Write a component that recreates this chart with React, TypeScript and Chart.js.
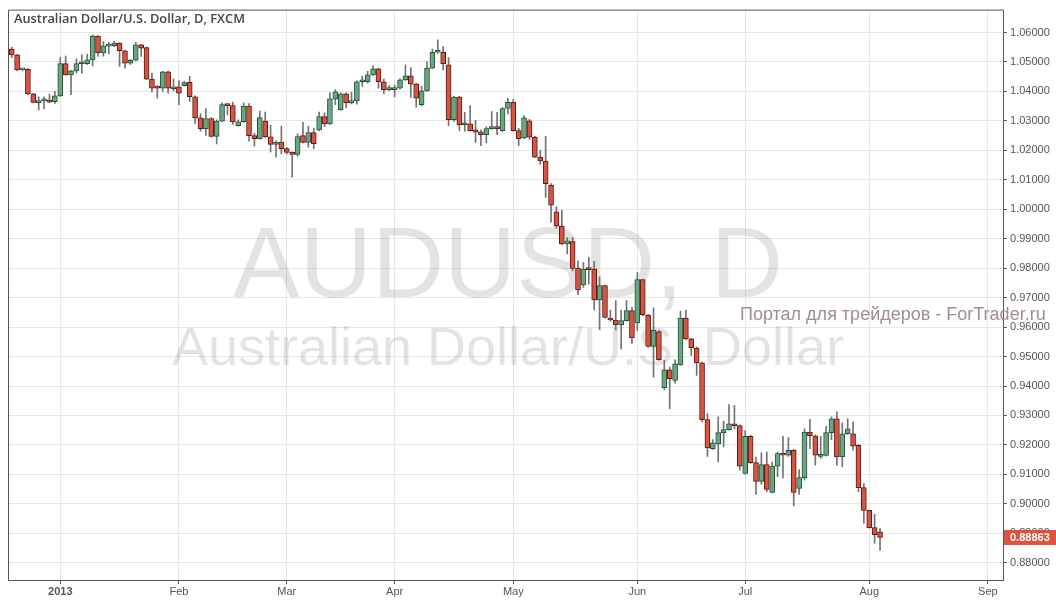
import React, { useEffect, useRef } from 'react';
import { Chart, registerables } from 'chart.js';

Chart.register(...registerables);

// Daily AUD/USD candles (FXCM), Dec 2012 – Aug 2013, one entry per trading day
const opens = [
  1.0544, 1.0524, 1.0473, 1.0475, 1.0392, 1.0362, 1.0368, 1.0370, 1.0365, 1.0385,
  1.0495, 1.0456, 1.0470, 1.0494, 1.0494, 1.0507, 1.0588, 1.0531, 1.0554, 1.0555,
  1.0564, 1.0538, 1.0496, 1.0506, 1.0558, 1.0549, 1.0442, 1.0412, 1.0411, 1.0467,
  1.0409, 1.0416, 1.0420, 1.0431, 1.0382, 1.0310, 1.0274, 1.0308, 1.0247, 1.0299,
  1.0355, 1.0352, 1.0284, 1.0297, 1.0350, 1.0250, 1.0240, 1.0299, 1.0246, 1.0220,
  1.0228, 1.0206, 1.0194, 1.0186, 1.0250, 1.0227, 1.0260, 1.0269, 1.0315, 1.0290,
  1.0374, 1.0338, 1.0392, 1.0361, 1.0368, 1.0433, 1.0433, 1.0456, 1.0477, 1.0433,
  1.0406, 1.0406, 1.0411, 1.0439, 1.0453, 1.0425, 1.0355, 1.0402, 1.0479, 1.0533,
  1.0533, 1.0490, 1.0304, 1.0381, 1.0287, 1.0290, 1.0270, 1.0263, 1.0253, 1.0274,
  1.0281, 1.0267, 1.0342, 1.0363, 1.0267, 1.0242, 1.0300, 1.0245, 1.0177, 1.0164,
  1.0082, 0.9991, 0.9943, 0.9882, 0.9890, 0.9800, 0.9743, 0.9797, 0.9797, 0.9692,
  0.9741, 0.9628, 0.9624, 0.9607, 0.9622, 0.9656, 0.9614, 0.9761, 0.9641, 0.9534,
  0.9585, 0.9394, 0.9455, 0.9419, 0.9472, 0.9631, 0.9560, 0.9529, 0.9479, 0.9286,
  0.9187, 0.9203, 0.9242, 0.9252, 0.9272, 0.9266, 0.9103, 0.9229, 0.9140, 0.9076,
  0.9133, 0.9039, 0.9128, 0.9171, 0.9165, 0.9182, 0.9052, 0.9089, 0.9244, 0.9231,
  0.9161, 0.9164, 0.9242, 0.9289, 0.9159, 0.9238, 0.9238, 0.9199, 0.9055, 0.8978,
  0.8919, 0.8905,
];
const highs = [
  1.0550, 1.0526, 1.0477, 1.0477, 1.0394, 1.0382, 1.0382, 1.0391, 1.0400, 1.0515,
  1.0520, 1.0472, 1.0511, 1.0524, 1.0526, 1.0592, 1.0590, 1.0569, 1.0567, 1.0571,
  1.0566, 1.0540, 1.0508, 1.0567, 1.0560, 1.0551, 1.0462, 1.0420, 1.0468, 1.0469,
  1.0442, 1.0437, 1.0434, 1.0451, 1.0385, 1.0324, 1.0342, 1.0310, 1.0304, 1.0361,
  1.0357, 1.0364, 1.0304, 1.0361, 1.0359, 1.0259, 1.0333, 1.0330, 1.0285, 1.0232,
  1.0282, 1.0210, 1.0195, 1.0256, 1.0295, 1.0282, 1.0276, 1.0330, 1.0327, 1.0396,
  1.0406, 1.0395, 1.0395, 1.0397, 1.0436, 1.0451, 1.0468, 1.0487, 1.0479, 1.0442,
  1.0420, 1.0422, 1.0443, 1.0490, 1.0481, 1.0428, 1.0417, 1.0501, 1.0544, 1.0575,
  1.0552, 1.0515, 1.0383, 1.0383, 1.0329, 1.0352, 1.0302, 1.0270, 1.0280, 1.0332,
  1.0329, 1.0345, 1.0377, 1.0372, 1.0275, 1.0318, 1.0305, 1.0248, 1.0200, 1.0248,
  1.0087, 1.0008, 0.9997, 0.9904, 0.9904, 0.9825, 0.9820, 0.9837, 0.9823, 0.9771,
  0.9743, 0.9658, 0.9690, 0.9658, 0.9690, 0.9667, 0.9786, 0.9763, 0.9643, 0.9665,
  0.9588, 0.9487, 0.9464, 0.9489, 0.9654, 0.9658, 0.9563, 0.9533, 0.9481, 0.9306,
  0.9218, 0.9295, 0.9281, 0.9337, 0.9334, 0.9268, 0.9249, 0.9233, 0.9159, 0.9173,
  0.9176, 0.9142, 0.9176, 0.9229, 0.9225, 0.9184, 0.9116, 0.9255, 0.9287, 0.9233,
  0.9229, 0.9263, 0.9295, 0.9312, 0.9275, 0.9289, 0.9278, 0.9201, 0.9069, 0.8979,
  0.8964, 0.8917,
];
const lows = [
  1.0515, 1.0470, 1.0470, 1.0389, 1.0361, 1.0337, 1.0341, 1.0362, 1.0359, 1.0383,
  1.0455, 1.0389, 1.0462, 1.0462, 1.0492, 1.0487, 1.0519, 1.0520, 1.0527, 1.0552,
  1.0485, 1.0479, 1.0492, 1.0504, 1.0519, 1.0440, 1.0398, 1.0377, 1.0400, 1.0394,
  1.0402, 1.0355, 1.0418, 1.0366, 1.0291, 1.0265, 1.0251, 1.0245, 1.0222, 1.0297,
  1.0321, 1.0288, 1.0282, 1.0295, 1.0231, 1.0214, 1.0238, 1.0244, 1.0195, 1.0177,
  1.0188, 1.0188, 1.0109, 1.0180, 1.0225, 1.0211, 1.0206, 1.0266, 1.0280, 1.0288,
  1.0355, 1.0336, 1.0344, 1.0358, 1.0357, 1.0417, 1.0428, 1.0454, 1.0411, 1.0392,
  1.0403, 1.0381, 1.0408, 1.0437, 1.0380, 1.0347, 1.0351, 1.0400, 1.0477, 1.0530,
  1.0473, 1.0284, 1.0298, 1.0267, 1.0265, 1.0265, 1.0227, 1.0216, 1.0225, 1.0272,
  1.0253, 1.0265, 1.0324, 1.0265, 1.0216, 1.0240, 1.0237, 1.0175, 1.0152, 1.0040,
  0.9955, 0.9936, 0.9880, 0.9848, 0.9791, 0.9710, 0.9735, 0.9746, 0.9658, 0.9591,
  0.9630, 0.9620, 0.9590, 0.9526, 0.9620, 0.9545, 0.9588, 0.9639, 0.9532, 0.9430,
  0.9487, 0.9387, 0.9323, 0.9410, 0.9470, 0.9557, 0.9504, 0.9436, 0.9278, 0.9161,
  0.9185, 0.9142, 0.9193, 0.9250, 0.9255, 0.9114, 0.9101, 0.9137, 0.9032, 0.9067,
  0.9041, 0.9037, 0.9092, 0.9088, 0.9161, 0.8993, 0.9032, 0.9080, 0.9187, 0.9131,
  0.9154, 0.9162, 0.9218, 0.9131, 0.9125, 0.9236, 0.9182, 0.9041, 0.8934, 0.8917,
  0.8866, 0.8843,
];
const closes = [
  1.0524, 1.0473, 1.0475, 1.0392, 1.0363, 1.0368, 1.0369, 1.0364, 1.0385, 1.0495,
  1.0456, 1.0470, 1.0495, 1.0495, 1.0507, 1.0588, 1.0532, 1.0555, 1.0555, 1.0564,
  1.0538, 1.0496, 1.0506, 1.0558, 1.0547, 1.0442, 1.0411, 1.0411, 1.0467, 1.0411,
  1.0416, 1.0394, 1.0430, 1.0382, 1.0310, 1.0274, 1.0308, 1.0247, 1.0299, 1.0355,
  1.0352, 1.0297, 1.0297, 1.0350, 1.0250, 1.0240, 1.0311, 1.0246, 1.0220, 1.0228,
  1.0206, 1.0193, 1.0186, 1.0247, 1.0227, 1.0260, 1.0223, 1.0315, 1.0290, 1.0375,
  1.0399, 1.0392, 1.0361, 1.0369, 1.0433, 1.0436, 1.0456, 1.0477, 1.0433, 1.0406,
  1.0410, 1.0413, 1.0439, 1.0453, 1.0425, 1.0377, 1.0402, 1.0479, 1.0533, 1.0535,
  1.0494, 1.0304, 1.0381, 1.0287, 1.0290, 1.0267, 1.0262, 1.0253, 1.0274, 1.0281,
  1.0274, 1.0342, 1.0363, 1.0267, 1.0240, 1.0310, 1.0245, 1.0177, 1.0164, 1.0087,
  1.0014, 0.9943, 0.9882, 0.9893, 0.9799, 0.9726, 0.9797, 0.9795, 0.9692, 0.9741,
  0.9633, 0.9624, 0.9607, 0.9622, 0.9656, 0.9563, 0.9761, 0.9641, 0.9534, 0.9590,
  0.9489, 0.9455, 0.9425, 0.9475, 0.9631, 0.9560, 0.9529, 0.9479, 0.9286, 0.9190,
  0.9207, 0.9242, 0.9252, 0.9272, 0.9265, 0.9128, 0.9229, 0.9140, 0.9076, 0.9133,
  0.9049, 0.9128, 0.9171, 0.9165, 0.9182, 0.9039, 0.9089, 0.9244, 0.9231, 0.9165,
  0.9168, 0.9242, 0.9289, 0.9159, 0.9238, 0.9255, 0.9196, 0.9055, 0.8978, 0.8919,
  0.8895, 0.88863,
];

// Month labels and the trading-day index where each month starts
const monthTickIndex = [9, 31, 51, 71, 93, 116, 136, 159, 181];
const monthTickLabels = ['2013', 'Feb', 'Mar', 'Apr', 'May', 'Jun', 'Jul', 'Aug', 'Sep'];
const priceTicks = [
  0.88, 0.89, 0.9, 0.91, 0.92, 0.93, 0.94, 0.95, 0.96, 0.97,
  0.98, 0.99, 1.0, 1.01, 1.02, 1.03, 1.04, 1.05, 1.06,
];
const lastPrice = 0.88863;

const titleText = 'Australian Dollar/U.S. Dollar, D, FXCM';
const watermarkBig = 'AUDUSD, D';
const watermarkSmall = 'Australian Dollar/U.S. Dollar';
const brandText = 'Портал для трейдеров - ForTrader.ru';

const UP_FILL = '#6ba583';
const UP_LINE = '#225437';
const DOWN_FILL = '#d75442';
const DOWN_LINE = '#5b1a13';
const WICK = '#737375';
const AXIS = '#555555';
const GRID = '#e6e6e6';
const FONT = "'Liberation Sans', Arial, sans-serif";

export default function App() {
  const ref = useRef<HTMLCanvasElement | null>(null);

  useEffect(() => {
    const canvas = ref.current;
    if (!canvas) return;

    const isUp = opens.map((o, i) => closes[i] >= o);
    const bodyData = opens.map((o, i) => ({ x: i, y: [o, closes[i]] }));
    const wickData = lows.map((l, i) => ({ x: i, y: [l, highs[i]] }));

    const framePlugin = {
      id: 'frame',
      afterDraw(chart: any) {
        const { ctx, chartArea } = chart;
        ctx.save();
        ctx.strokeStyle = AXIS;
        ctx.lineWidth = 1;
        ctx.beginPath();
        ctx.moveTo(chartArea.left + 0.5, chartArea.top + 0.5);
        ctx.lineTo(chartArea.right + 0.5, chartArea.top + 0.5);
        ctx.lineTo(chartArea.right + 0.5, chartArea.bottom + 0.5);
        ctx.lineTo(chartArea.left + 0.5, chartArea.bottom + 0.5);
        ctx.closePath();
        ctx.stroke();
        ctx.restore();
      },
    };

    const watermarkPlugin = {
      id: 'watermark',
      beforeDatasetsDraw(chart: any) {
        const { ctx } = chart;
        ctx.save();
        ctx.fillStyle = 'rgba(0,0,0,0.11)';
        ctx.textAlign = 'center';
        ctx.textBaseline = 'alphabetic';
        ctx.font = `100px ${FONT}`;
        ctx.fillText(watermarkBig, 508, 297);
        ctx.font = `54px ${FONT}`;
        ctx.fillText(watermarkSmall, 508, 365);
        ctx.restore();
      },
    };

    const overlayPlugin = {
      id: 'overlay',
      afterDraw(chart: any) {
        const { ctx } = chart;
        const yScale = chart.scales.y;
        ctx.save();
        // title
        ctx.fillStyle = '#444444';
        ctx.font = `600 12.8px 'Open Sans', sans-serif`;
        ctx.textAlign = 'left';
        ctx.textBaseline = 'middle';
        ctx.fillText(titleText, 14, 19);
        // brand text
        ctx.fillStyle = '#a08e8e';
        ctx.font = `18px ${FONT}`;
        ctx.textBaseline = 'alphabetic';
        ctx.fillText(brandText, 740, 320);
        // last price tag
        const py = yScale.getPixelForValue(lastPrice);
        ctx.fillStyle = '#dd5340';
        ctx.fillRect(chart.chartArea.right + 1, Math.round(py) - 7, 53, 15);
        ctx.fillStyle = '#ffffff';
        ctx.font = `bold 11px ${FONT}`;
        ctx.textBaseline = 'middle';
        ctx.fillText(lastPrice.toFixed(5), 1010, Math.round(py) + 1);
        ctx.restore();
      },
    };

    const chart = new Chart(canvas, {
      type: 'bar',
      data: {
        datasets: [
          {
            label: 'body',
            data: bodyData as any,
            backgroundColor: isUp.map((u) => (u ? UP_FILL : DOWN_FILL)),
            borderColor: isUp.map((u) => (u ? UP_LINE : DOWN_LINE)),
            borderWidth: 1,
            borderSkipped: false,
            barThickness: 5,
            minBarLength: 2,
            grouped: false,
            order: 0,
          } as any,
          {
            label: 'wick',
            data: wickData as any,
            backgroundColor: WICK,
            borderWidth: 0,
            barThickness: 1,
            grouped: false,
            order: 1,
          } as any,
        ],
      },
      options: {
        animation: false,
        responsive: false,
        maintainAspectRatio: false,
        layout: { padding: { left: 8, top: 8, right: 0, bottom: 0 } },
        plugins: {
          legend: { display: false },
          tooltip: { enabled: false },
          title: { display: false },
        },
        scales: {
          x: {
            type: 'linear',
            min: -0.69,
            max: 183.8,
            offset: false,
            grid: { color: GRID, offset: false, tickLength: 4, tickColor: AXIS, drawOnChartArea: true },
            border: { display: false },
            afterBuildTicks: (scale: any) => {
              scale.ticks = monthTickIndex.map((v) => ({ value: v }));
            },
            afterFit: (scale: any) => {
              scale.height = 28;
            },
            ticks: {
              autoSkip: false,
              maxRotation: 0,
              padding: 1,
              color: AXIS,
              font: (ctx: any) => ({
                family: FONT,
                size: 11,
                weight: ctx.tick && ctx.tick.value === monthTickIndex[0] ? 'bold' : 'normal',
              }),
              callback: (value: any) => {
                const k = monthTickIndex.indexOf(Number(value));
                return k >= 0 ? monthTickLabels[k] : '';
              },
            },
          } as any,
          y: {
            type: 'linear',
            position: 'right',
            min: 0.874144,
            max: 1.067784,
            grid: { color: GRID, tickLength: 4, tickColor: AXIS },
            border: { display: false },
            afterBuildTicks: (scale: any) => {
              scale.ticks = priceTicks.map((v) => ({ value: v }));
            },
            afterFit: (scale: any) => {
              scale.width = 53;
            },
            ticks: {
              padding: 3,
              color: AXIS,
              font: { family: FONT, size: 11 },
              callback: (value: any) => Number(value).toFixed(5),
            },
          } as any,
        },
      },
      plugins: [framePlugin, watermarkPlugin, overlayPlugin],
    });

    return () => chart.destroy();
  }, []);

  return (
    <canvas
      ref={ref}
      width={1056}
      height={608}
      style={{ position: 'absolute', left: 0, top: 0, width: 1056, height: 608, background: '#ffffff' }}
    />
  );
}
